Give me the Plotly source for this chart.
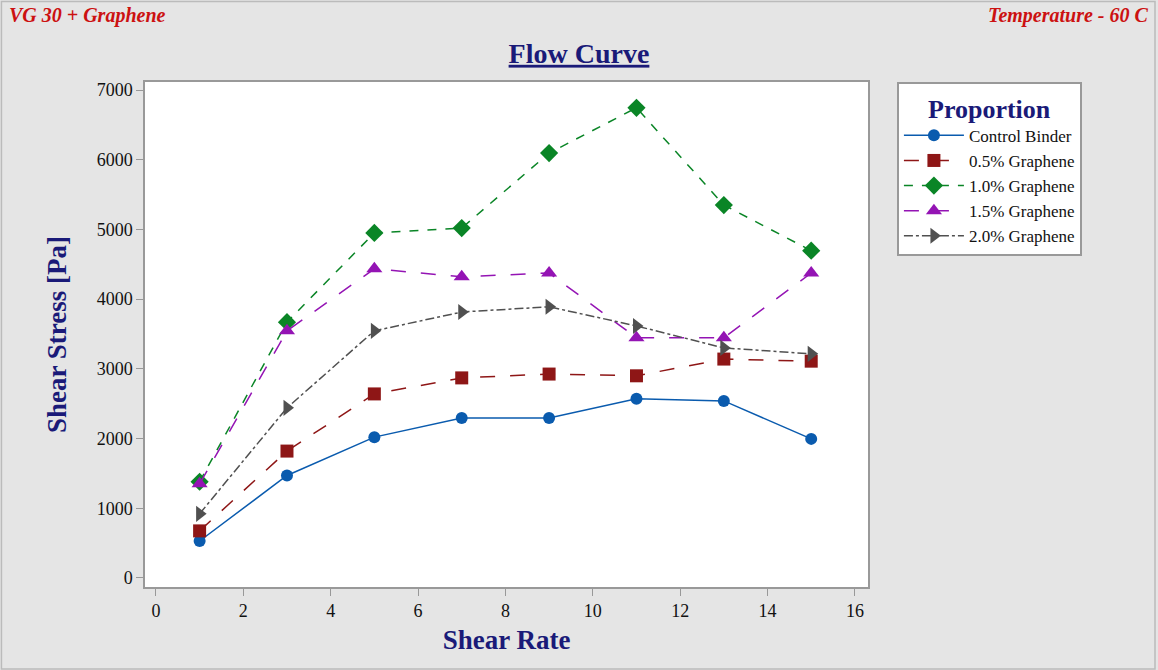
import plotly.graph_objects as go

shear_rate = [1, 3, 5, 7, 9, 11, 13, 15]
control_binder = [530, 1470, 2020, 2295, 2295, 2570, 2540, 1995]
graphene_05 = [675, 1820, 2640, 2870, 2925, 2900, 3140, 3110]
graphene_10 = [1380, 3670, 4950, 5020, 6095, 6745, 5350, 4695]
graphene_15 = [1350, 3545, 4435, 4320, 4375, 3445, 3445, 4375]
graphene_20 = [920, 2440, 3545, 3815, 3890, 3615, 3300, 3215]

names = ["Control Binder", "0.5% Graphene", "1.0% Graphene", "1.5% Graphene", "2.0% Graphene"]
series = [control_binder, graphene_05, graphene_10, graphene_15, graphene_20]
colors = ["#0A5BAE", "#8E1616", "#0A8526", "#9414B4", "#505050"]
dashes = ["solid", "longdash", "dash", "longdash", "dashdot"]
symbols = ["circle", "square", "diamond", "triangle-up", "triangle-right"]
sizes = [12, 13, 14, 14, 14]

SERIF = "Liberation Serif, Times New Roman, serif"
NAVY = "#1A1A78"

fig = go.Figure()
for n, s, c, d, m, sz in zip(names, series, colors, dashes, symbols, sizes):
    fig.add_trace(go.Scatter(
        x=shear_rate, y=s, name=n, mode="lines+markers",
        line=dict(color=c, width=1.5, dash=d),
        marker=dict(symbol=m, size=sz, color=c),
    ))

axis_common = dict(
    showline=True, linecolor="#999999", linewidth=1.5, mirror=True,
    ticks="outside", tickcolor="#999999", ticklen=7, tickwidth=1,
    showgrid=False, zeroline=False,
    tickfont=dict(family=SERIF, size=18, color="#111111"),
)

fig.update_layout(
    width=1158, height=670,
    paper_bgcolor="#E5E5E5", plot_bgcolor="white",
    margin=dict(l=145, r=290, t=82, b=83),
    font=dict(family=SERIF),
    title=dict(text="<u><b>Flow Curve</b></u>", x=0.5, xref="container", xanchor="center",
               y=1 - 53 / 670, yanchor="middle",
               font=dict(family=SERIF, size=28, color=NAVY)),
    xaxis=dict(range=[-0.25, 16.3], dtick=2, tick0=0,
               title=dict(text="<b>Shear Rate</b>", font=dict(family=SERIF, size=27, color=NAVY), standoff=10),
               **axis_common),
    yaxis=dict(range=[-130, 7115], dtick=1000, tick0=0,
               title=dict(text="<b>Shear Stress [Pa]</b>", font=dict(family=SERIF, size=27, color=NAVY), standoff=22),
               **axis_common),
    legend=dict(
        x=1.04, y=1.0, xanchor="left", yanchor="top",
        bgcolor="white", bordercolor="#999999", borderwidth=2,
        font=dict(family=SERIF, size=17, color="#111111"),
        title=dict(text="<b>Proportion</b>", side="top center",
                   font=dict(family=SERIF, size=26, color=NAVY)),
        tracegroupgap=0, itemwidth=60,
    ),
    annotations=[
        dict(text="<b><i>VG 30 + Graphene</i></b>", xref="paper", yref="paper",
             x=-138 / 723, y=1 + 66 / 505, xanchor="left", yanchor="middle",
             showarrow=False, font=dict(family=SERIF, size=20, color="#CC1111")),
        dict(text="<b><i>Temperature - 60 C</i></b>", xref="paper", yref="paper",
             x=(1150 - 145) / 723, y=1 + 66 / 505, xanchor="right", yanchor="middle",
             showarrow=False, font=dict(family=SERIF, size=20, color="#CC1111")),
    ],
    shapes=[
        dict(type="rect", xref="paper", yref="paper", x0=-145 / 723 + 0.002, x1=(1155 - 145) / 723,
             y0=-83 / 505 + 0.002, y1=1 + 82 / 505 - 0.003, line=dict(color="#BBBBBB", width=1.5)),
    ],
)

fig.write_html("out.html", config={"displayModeBar": False},
               post_script="document.body.style.margin='0';document.body.style.overflow='hidden';")
